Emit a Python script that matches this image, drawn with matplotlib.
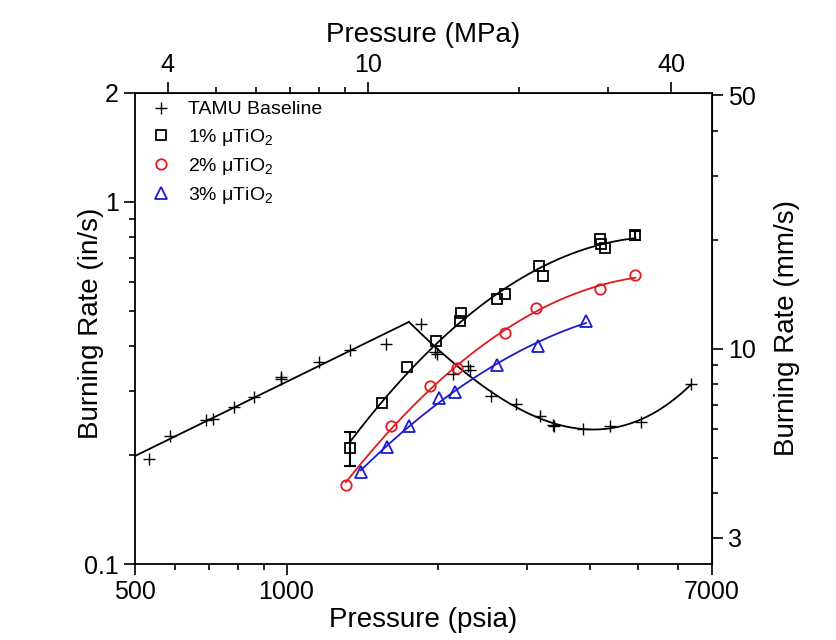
import numpy as np
import matplotlib
matplotlib.use("Agg")
import matplotlib.pyplot as plt
from matplotlib.ticker import FixedLocator, NullFormatter, FixedFormatter

plt.rcParams['font.family'] = ['Liberation Sans', 'DejaVu Sans']
plt.rcParams['mathtext.default'] = 'regular'

# ---- measured burning rates (pressure in psia, rate in in/s) ----
baseline_p = [533, 587, 692, 715, 788, 862, 975, 975, 1160, 1334, 1574,
              1852, 1968, 1990, 2141, 2293, 2318, 2548, 2861, 3193, 3377,
              3394, 3876, 4385, 5054, 6345]
baseline_r = [0.195, 0.226, 0.250, 0.251, 0.271, 0.289, 0.329, 0.324, 0.361,
              0.390, 0.404, 0.460, 0.384, 0.381, 0.335, 0.353, 0.343, 0.292,
              0.277, 0.256, 0.242, 0.240, 0.236, 0.241, 0.246, 0.314]

tio2_1_p = [1334, 1546, 1734, 1981, 2213, 2224, 2619, 2712, 3178, 3232,
            4190, 4204, 4287, 4931]
tio2_1_r = [0.209, 0.279, 0.349, 0.413, 0.470, 0.492, 0.540, 0.557, 0.667,
            0.624, 0.789, 0.764, 0.748, 0.810]
tio2_1_err = [0.022, 0, 0, 0, 0, 0, 0, 0, 0, 0, 0, 0, 0, 0.024]

tio2_2_p = [1312, 1611, 1929, 2181, 2720, 3125, 4190, 4931]
tio2_2_r = [0.165, 0.241, 0.311, 0.347, 0.434, 0.508, 0.574, 0.628]

tio2_3_p = [1405, 1583, 1747, 2011, 2157, 2619, 3159, 3936]
tio2_3_r = [0.180, 0.211, 0.241, 0.288, 0.298, 0.355, 0.401, 0.470]

# baseline split between the low- and high-pressure regimes
break_split = 1700

x_major = [500, 1000, 7000]
x_minor = [600, 700, 800, 900, 2000, 3000, 4000, 5000, 6000]
y_major = [0.1, 1, 2]
y_minor = [0.2, 0.3, 0.4, 0.5, 0.6, 0.7, 0.8, 0.9]
mpa_major = [4, 10, 40]
mpa_minor = [5, 6, 7, 8, 9, 20, 30]
mms_major = [3, 10, 50]
mms_minor = [4, 5, 6, 7, 8, 9, 20, 30, 40]

PSI_TO_MPA = 0.00689476
IN_TO_MM = 25.4

RED = '#e0191e'
BLUE = '#1a1ad0'


def loglog_poly(p, r, deg):
    return np.polyfit(np.log10(p), np.log10(r), deg)


def eval_poly(c, p):
    return 10 ** np.polyval(c, np.log10(p))


fig = plt.figure(figsize=(8.37, 6.40), dpi=100)
ax = fig.add_axes([135 / 837, 1 - 564 / 640, (712 - 135) / 837, (564 - 93) / 640])
ax.set_xscale('log')
ax.set_yscale('log')
ax.set_xlim(500, 7000)
ax.set_ylim(0.1, 2)

# ---- fitted trend lines ----
bp = np.array(baseline_p, float)
br = np.array(baseline_r, float)
low = bp < break_split
c_low = loglog_poly(bp[low], br[low], 1)
c_high = loglog_poly(bp[~low], br[~low], 3)
grid = np.logspace(np.log10(1500), np.log10(2100), 2000)
diff = np.polyval(c_low, np.log10(grid)) - np.polyval(c_high, np.log10(grid))
p_break = grid[np.argmin(np.abs(diff))]
pl = np.logspace(np.log10(500), np.log10(p_break), 100)
ph = np.logspace(np.log10(p_break), np.log10(bp.max()), 300)
ax.plot(pl, eval_poly(c_low, pl), color='black', lw=1.3, zorder=2)
ax.plot(ph, eval_poly(c_high, ph), color='black', lw=1.3, zorder=2)

for p, r, col in [(tio2_1_p, tio2_1_r, 'black'),
                  (tio2_2_p, tio2_2_r, RED),
                  (tio2_3_p, tio2_3_r, BLUE)]:
    c = loglog_poly(p, r, 2)
    pp = np.logspace(np.log10(min(p)), np.log10(max(p)), 200)
    ax.plot(pp, eval_poly(c, pp), color=col, lw=1.3, zorder=2)

# ---- markers ----
ax.plot(baseline_p, baseline_r, ls='none', marker='+', ms=9, mew=1.0,
        color='black', label='TAMU Baseline', zorder=3)
err = np.array(tio2_1_err)
ax.errorbar(np.array(tio2_1_p)[err > 0], np.array(tio2_1_r)[err > 0],
            yerr=err[err > 0], fmt='none', ecolor='black', elinewidth=1.5,
            capsize=4.5, capthick=1.5, zorder=3)
ax.plot(tio2_1_p, tio2_1_r, ls='none', marker='s', ms=7, mew=1.3,
        mfc='none', mec='black', label='1% μTiO$_2$', zorder=4)
ax.plot(tio2_2_p, tio2_2_r, ls='none', marker='o', ms=7.5, mew=1.3,
        mfc='none', mec=RED, label='2% μTiO$_2$', zorder=4)
ax.plot(tio2_3_p, tio2_3_r, ls='none', marker='^', ms=8, mew=1.3,
        mfc='none', mec=BLUE, label='3% μTiO$_2$', zorder=4)

# ---- axes formatting ----
ax.xaxis.set_major_locator(FixedLocator(x_major))
ax.xaxis.set_major_formatter(FixedFormatter([str(v) for v in x_major]))
ax.xaxis.set_minor_locator(FixedLocator(x_minor))
ax.xaxis.set_minor_formatter(NullFormatter())
ax.yaxis.set_major_locator(FixedLocator(y_major))
ax.yaxis.set_major_formatter(FixedFormatter(['0.1', '1', '2']))
ax.yaxis.set_minor_locator(FixedLocator(y_minor))
ax.yaxis.set_minor_formatter(NullFormatter())

tick_kw = dict(direction='out', labelsize=18, width=1.2)
ax.tick_params(which='major', length=8, **tick_kw)
ax.tick_params(which='minor', length=4, direction='out', width=1.2)
ax.tick_params(top=False, right=False, which='both')
for s in ax.spines.values():
    s.set_linewidth(1.3)

ax.set_xlabel('Pressure (psia)', fontsize=20, labelpad=2)
ax.set_ylabel('Burning Rate (in/s)', fontsize=20)
ax.yaxis.set_label_coords(-0.053, 0.51)

top = ax.secondary_xaxis('top', functions=(lambda p: p * PSI_TO_MPA,
                                           lambda m: m / PSI_TO_MPA))
top.xaxis.set_major_locator(FixedLocator(mpa_major))
top.xaxis.set_major_formatter(FixedFormatter([str(v) for v in mpa_major]))
top.xaxis.set_minor_locator(FixedLocator(mpa_minor))
top.xaxis.set_minor_formatter(NullFormatter())
top.tick_params(which='major', length=8, **tick_kw)
top.tick_params(which='minor', length=4, direction='out', width=1.2)
top.set_xlabel('Pressure (MPa)', fontsize=20, labelpad=8)

right = ax.secondary_yaxis('right', functions=(lambda r: r * IN_TO_MM,
                                               lambda m: m / IN_TO_MM))
right.yaxis.set_major_locator(FixedLocator(mms_major))
right.yaxis.set_major_formatter(FixedFormatter([str(v) for v in mms_major]))
right.yaxis.set_minor_locator(FixedLocator(mms_minor))
right.yaxis.set_minor_formatter(NullFormatter())
right.tick_params(which='major', length=8, **tick_kw)
right.tick_params(which='minor', length=4, direction='out', width=1.2)
right.set_ylabel('Burning Rate (mm/s)', fontsize=20, labelpad=13)

ax.legend(loc='upper left', bbox_to_anchor=(0.005, 1.0), frameon=False,
          fontsize=14, handletextpad=0.6, labelspacing=0.42,
          borderaxespad=0.0, handlelength=1.6)

fig.savefig('out.png', dpi=100)
